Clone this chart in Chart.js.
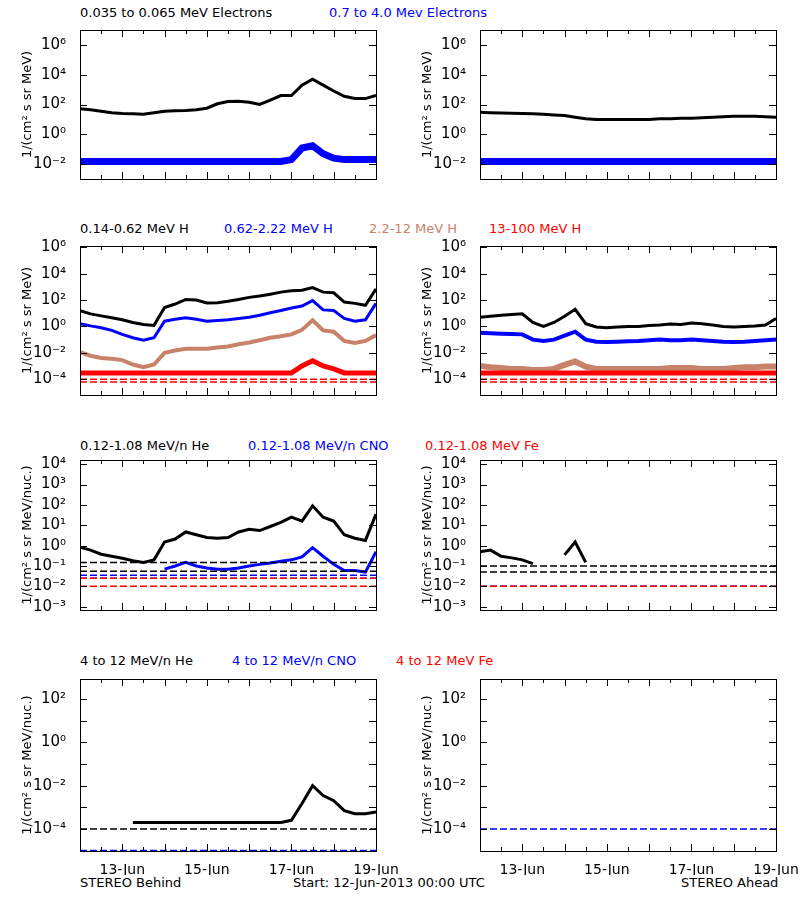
<!DOCTYPE html>
<html>
<head>
<meta charset="utf-8">
<script src="https://cdn.jsdelivr.net/npm/chart.js@4.4.1/dist/chart.umd.min.js"></script>
<style>
  body { margin: 0; background: #fff; width: 800px; height: 900px; position: relative; overflow: hidden; }
  canvas { position: absolute; }
  .t { position: absolute; font: 13px "DejaVu Sans", sans-serif; white-space: nowrap; }
</style>
</head>
<body>
<div class="t" style="left:80px;top:5px">0.035 to 0.065 MeV Electrons</div>
<div class="t" style="left:329px;top:5px;color:#0000ff">0.7 to 4.0 Mev Electrons</div>
<div class="t" style="left:80px;top:221px">0.14-0.62 MeV H</div>
<div class="t" style="left:224px;top:221px;color:#0000ff">0.62-2.22 MeV H</div>
<div class="t" style="left:369px;top:221px;color:#c8826a">2.2-12 MeV H</div>
<div class="t" style="left:489px;top:221px;color:#ff0000">13-100 MeV H</div>
<div class="t" style="left:80px;top:438px">0.12-1.08 MeV/n He</div>
<div class="t" style="left:248px;top:438px;color:#0000ff">0.12-1.08 MeV/n CNO</div>
<div class="t" style="left:425px;top:438px;color:#ff0000">0.12-1.08 MeV Fe</div>
<div class="t" style="left:80px;top:653px">4 to 12 MeV/n He</div>
<div class="t" style="left:232px;top:653px;color:#0000ff">4 to 12 MeV/n CNO</div>
<div class="t" style="left:396px;top:653px;color:#ff0000">4 to 12 MeV Fe</div>
<div class="t" style="left:80px;top:875px">STEREO Behind</div>
<div class="t" style="left:293px;top:875px">Start: 12-Jun-2013 00:00 UTC</div>
<div class="t" style="left:681px;top:875px">STEREO Ahead</div>

<script>
// --- data: hours since 12-Jun-2013 00:00, sampled every 6 h ------------
var hours = [0, 6, 12, 18, 24, 30, 36, 42, 48, 54, 60, 66, 72, 78, 84, 90, 96, 102, 108, 114, 120, 126, 132, 138, 144, 150, 156, 162, 168];
var dayTicks = [24, 72, 120, 168];
var dayLabels = ["13-Jun", "15-Jun", "17-Jun", "19-Jun"];

// electrons
var eLowBehind = [52, 45, 35, 28, 25, 24, 22, 28, 35, 38, 40, 45, 56, 112, 160, 166, 141, 100, 200, 400, 400, 2000, 5000, 2000, 800, 355, 250, 250, 400];
var eHighBehind = [0.015, 0.015, 0.015, 0.015, 0.015, 0.015, 0.015, 0.015, 0.015, 0.015, 0.015, 0.015, 0.015, 0.015, 0.015, 0.015, 0.015, 0.015, 0.015, 0.015, 0.02, 0.12, 0.17, 0.05, 0.025, 0.02, 0.02, 0.02, 0.02];
var eLowAhead = [30, 28, 27, 26, 25, 24, 22, 20, 18, 14, 11, 10, 10, 10, 10, 10, 10, 11, 11, 12, 12, 13, 14, 15, 16, 16, 16, 15, 14];
var eHighAhead = [0.015, 0.015, 0.015, 0.015, 0.015, 0.015, 0.015, 0.015, 0.015, 0.015, 0.015, 0.015, 0.015, 0.015, 0.015, 0.015, 0.015, 0.015, 0.015, 0.015, 0.015, 0.015, 0.015, 0.015, 0.015, 0.015, 0.015, 0.015, 0.015];

// protons
var h1Behind = [15.5, 9, 6.3, 4.5, 3.2, 2, 1.4, 1.2, 27, 50, 112, 100, 60, 63, 80, 112, 160, 200, 280, 400, 500, 560, 890, 400, 355, 71, 56, 40, 700];
var h2Behind = [1.6, 1.1, 0.8, 0.5, 0.25, 0.14, 0.09, 0.14, 2.5, 3.5, 4.5, 3.5, 2.5, 2.8, 3.2, 4, 5, 7, 11, 16, 25, 35, 90, 18, 16, 4, 2.5, 3.2, 56];
var h3Behind = [0.011, 0.006, 0.004, 0.0035, 0.0028, 0.0013, 0.0008, 0.0013, 0.01, 0.015, 0.02, 0.02, 0.02, 0.025, 0.03, 0.045, 0.06, 0.09, 0.14, 0.18, 0.25, 0.55, 3, 0.5, 0.4, 0.08, 0.055, 0.08, 0.22];
var h4Behind = [3e-4, 3e-4, 3e-4, 3e-4, 3e-4, 3e-4, 3e-4, 3e-4, 3e-4, 3e-4, 3e-4, 3e-4, 3e-4, 3e-4, 3e-4, 3e-4, 3e-4, 3e-4, 3e-4, 3e-4, 3e-4, 1e-3, 2.5e-3, 1e-3, 6e-4, 3e-4, 3e-4, 3e-4, 3e-4];
var h1Ahead = [5, 6, 7, 8, 9, 2, 1, 2, 6, 20, 1.6, 0.9, 0.8, 0.9, 1, 1, 1.2, 1.3, 1.5, 1.4, 1.8, 1.6, 1.3, 1.0, 0.9, 1.0, 1.1, 1.3, 4];
var h2Ahead = [0.33, 0.3, 0.28, 0.27, 0.25, 0.1, 0.08, 0.1, 0.2, 0.4, 0.1, 0.07, 0.065, 0.07, 0.075, 0.08, 0.09, 0.1, 0.09, 0.09, 0.1, 0.09, 0.08, 0.07, 0.065, 0.07, 0.08, 0.09, 0.1];
var h3Ahead = [0.001, 0.0008, 0.0007, 0.0006, 0.0006, 0.0005, 0.0005, 0.0006, 0.0012, 0.0022, 0.0009, 0.0006, 0.0006, 0.0006, 0.0006, 0.0006, 0.0006, 0.0006, 0.0007, 0.0007, 0.0007, 0.0006, 0.0006, 0.0006, 0.0007, 0.0008, 0.0008, 0.0009, 0.0009];
var h4Ahead = [3e-4, 3e-4, 3e-4, 3e-4, 3e-4, 3e-4, 3e-4, 3e-4, 3e-4, 3e-4, 3e-4, 3e-4, 3e-4, 3e-4, 3e-4, 3e-4, 3e-4, 3e-4, 3e-4, 3e-4, 3e-4, 3e-4, 3e-4, 3e-4, 3e-4, 3e-4, 3e-4, 3e-4, 3e-4];

// low energy heavy ions
var heLowBehind = [0.83, 0.6, 0.38, 0.3, 0.24, 0.18, 0.15, 0.2, 1.5, 2.1, 4.7, 3.4, 2.5, 2.3, 2.5, 4.7, 6.3, 5.5, 8.7, 13.8, 25, 16, 90, 25, 16, 3.4, 2.3, 1.8, 35];
var cnoLowBehind = [null, null, null, null, null, null, null, null, 0.07, 0.1, 0.15, 0.1, 0.08, 0.07, 0.07, 0.08, 0.1, 0.12, 0.14, 0.17, 0.2, 0.28, 0.8, 0.3, 0.12, 0.06, 0.06, 0.05, 0.5];
var heLowAhead = [0.5, 0.6, 0.3, 0.25, 0.2, 0.13, null, null, 0.35, 1.5, 0.15, null, null, null, null, null, null, null, null, null, null, null, null, null, null, null, null, null, 0.2];

// high energy heavy ions
var heHighBehind = [null, null, null, null, null, 2e-4, 2e-4, 2e-4, 2e-4, 2e-4, 2e-4, 2e-4, 2e-4, 2e-4, 2e-4, 2e-4, 2e-4, 2e-4, 2e-4, 2e-4, 2.5e-4, 1.5e-3, 1e-2, 3.5e-3, 2e-3, 7e-4, 5e-4, 5e-4, 6e-4];

// count floors (one-count levels)
var floorHeBehind = [0.15, 0.055];
var floorCnoBehind = [0.035, 0.025];
var floorFeBehind = [0.01, 0.025];
var floorHeAhead = [0.1, 0.05];
var floorIonAhead = [0.01];
var floorHighBehind = [1e-4, 1e-5];
var floorProton = [1e-4, 6e-5];

// axis ticks
var ticksE = [1e6, 1e4, 1e2, 1, 1e-2];
var labelsE = ["10⁶", "10⁴", "10²", "10⁰", "10⁻²"];
var ticksH = [1e6, 1e4, 1e2, 1, 1e-2, 1e-4];
var labelsH = ["10⁶", "10⁴", "10²", "10⁰", "10⁻²", "10⁻⁴"];
var ticksLow = [1e4, 1e3, 1e2, 1e1, 1, 1e-1, 1e-2, 1e-3];
var labelsLow = ["10⁴", "10³", "10²", "10¹", "10⁰", "10⁻¹", "10⁻²", "10⁻³"];
var ticksHigh = [1e2, 1e1, 1, 1e-1, 1e-2, 1e-3, 1e-4];
var labelsHigh = ["10²", "", "10⁰", "", "10⁻²", "", "10⁻⁴"];

var BLACK = "#000000", BLUE = "#0000ff", BROWN = "#c8826a", RED = "#ff0000";
var FONT = "DejaVu Sans";

function series(vals, color, width) {
    return {
        data: hours.map(function (h, i) { return { x: h, y: vals[i] }; }),
        borderColor: color, borderWidth: width || 3, pointRadius: 0, spanGaps: false, tension: 0
    };
}

function floor(level, color) {
    return {
        data: [{ x: 0, y: level }, { x: 168, y: level }],
        borderColor: color, borderWidth: 1.5, borderDash: [7, 3], pointRadius: 0
    };
}

// inward ticks + frame, IDL-style
var framePlugin = {
    id: "frame",
    afterDraw: function (chart) {
        var a = chart.chartArea, c = chart.ctx, sx = chart.scales.x, sy = chart.scales.y;
        c.save();
        c.strokeStyle = "#000";
        c.lineWidth = 1;
        c.strokeRect(a.left + 0.5, a.top + 0.5, a.right - a.left, a.bottom - a.top);
        c.beginPath();
        for (var h = 12; h < 168; h += 12) {
            var x = Math.round(sx.getPixelForValue(h)) + 0.5;
            var len = (h % 24 == 0) ? 7 : 4;
            c.moveTo(x, a.bottom); c.lineTo(x, a.bottom - len);
            c.moveTo(x, a.top); c.lineTo(x, a.top + len);
        }
        chart.options.yTickVals.forEach(function (v) {
            var y = Math.round(sy.getPixelForValue(v)) + 0.5;
            c.moveTo(a.left, y); c.lineTo(a.left + 7, y);
            c.moveTo(a.right, y); c.lineTo(a.right - 7, y);
        });
        c.stroke();
        c.restore();
    }
};

function makePanel(left, top, height, yMin, yMax, tickVals, tickLabels, yTitle, datasets, showX) {
    var cv = document.createElement("canvas");
    var W = 80 + 296 + 30, H = height + 8 + (showX ? 24 : 8);
    cv.width = W; cv.height = H;
    cv.style.left = (left - 80) + "px";
    cv.style.top = (top - 8) + "px";
    cv.style.width = W + "px"; cv.style.height = H + "px";
    document.body.appendChild(cv);

    new Chart(cv.getContext("2d"), {
        type: "line",
        data: { datasets: datasets },
        plugins: [framePlugin],
        options: {
            responsive: false, animation: false, devicePixelRatio: 1,
            yTickVals: tickVals,
            layout: { padding: { top: 8, right: 30, bottom: showX ? 0 : 8, left: 0 } },
            plugins: { legend: { display: false }, tooltip: { enabled: false } },
            scales: {
                x: {
                    type: "linear", min: 0, max: 168, display: showX,
                    grid: { display: false }, border: { display: false },
                    afterBuildTicks: function (s) { s.ticks = dayTicks.map(function (v) { return { value: v }; }); },
                    afterFit: function (s) { s.height = 24; },
                    ticks: {
                        maxRotation: 0, autoSkip: false, padding: 3, color: "#000",
                        font: { family: FONT, size: 14 },
                        callback: function (v) { return dayLabels[dayTicks.indexOf(v)]; }
                    }
                },
                y: {
                    type: "logarithmic", min: yMin, max: yMax,
                    grid: { display: false }, border: { display: false },
                    afterBuildTicks: function (s) { s.ticks = tickVals.map(function (v) { return { value: v }; }); },
                    afterFit: function (s) { s.width = 80; },
                    title: { display: true, text: yTitle, color: "#000", font: { family: FONT, size: 13 }, padding: { top: 20, bottom: 0 } },
                    ticks: {
                        autoSkip: false, padding: 6, color: "#000",
                        font: { family: FONT, size: 15 },
                        callback: function (v, i) { return tickLabels[i]; }
                    }
                }
            }
        }
    });
}

var titleE = "1/(cm² s sr MeV)";
var titleN = "1/(cm² s sr MeV/nuc.)";

// row 1: electrons
makePanel(80, 23, 180, 1e-3, 1e7, ticksE, labelsE, titleE,
    [series(eHighBehind, BLUE, 7), series(eLowBehind, BLACK, 3)], false);
makePanel(480, 23, 180, 1e-3, 1e7, ticksE, labelsE, titleE,
    [series(eHighAhead, BLUE, 7), series(eLowAhead, BLACK, 3)], false);

// row 2: protons
makePanel(80, 239, 180, 6.3e-6, 1.26e6, ticksH, labelsH, titleE,
    [floor(floorProton[0], RED), floor(floorProton[1], RED), series(h4Behind, RED, 5),
     series(h3Behind, BROWN, 4), series(h2Behind, BLUE, 3), series(h1Behind, BLACK, 3)], false);
makePanel(480, 239, 180, 6.3e-6, 1.26e6, ticksH, labelsH, titleE,
    [floor(floorProton[0], RED), floor(floorProton[1], RED), series(h4Ahead, RED, 5),
     series(h3Ahead, BROWN, 6), series(h2Ahead, BLUE, 4), series(h1Ahead, BLACK, 3)], false);

// row 3: low energy ions
makePanel(80, 453, 181, 6.9e-4, 1.6e4, ticksLow, labelsLow, titleN,
    [floor(floorFeBehind[0], RED), floor(floorFeBehind[1], RED),
     floor(floorCnoBehind[0], BLUE), floor(floorCnoBehind[1], BLUE),
     floor(floorHeBehind[0], BLACK), floor(floorHeBehind[1], BLACK),
     series(cnoLowBehind, BLUE, 3), series(heLowBehind, BLACK, 3)], false);
makePanel(480, 453, 181, 6.9e-4, 1.6e4, ticksLow, labelsLow, titleN,
    [floor(floorIonAhead[0], RED), floor(floorIonAhead[0], BLUE),
     floor(floorHeAhead[0], BLACK), floor(floorHeAhead[1], BLACK),
     series(heLowAhead, BLACK, 3)], false);

// row 4: high energy ions
makePanel(80, 672, 179, 9.5e-6, 8.5e2, ticksHigh, labelsHigh, titleN,
    [floor(floorHighBehind[1], BLUE), floor(floorHighBehind[0], BLACK),
     series(heHighBehind, BLACK, 3)], true);
makePanel(480, 672, 179, 9.5e-6, 8.5e2, ticksHigh, labelsHigh, titleN,
    [floor(floorHighBehind[0], BLUE)], true);
</script>
</body>
</html>
